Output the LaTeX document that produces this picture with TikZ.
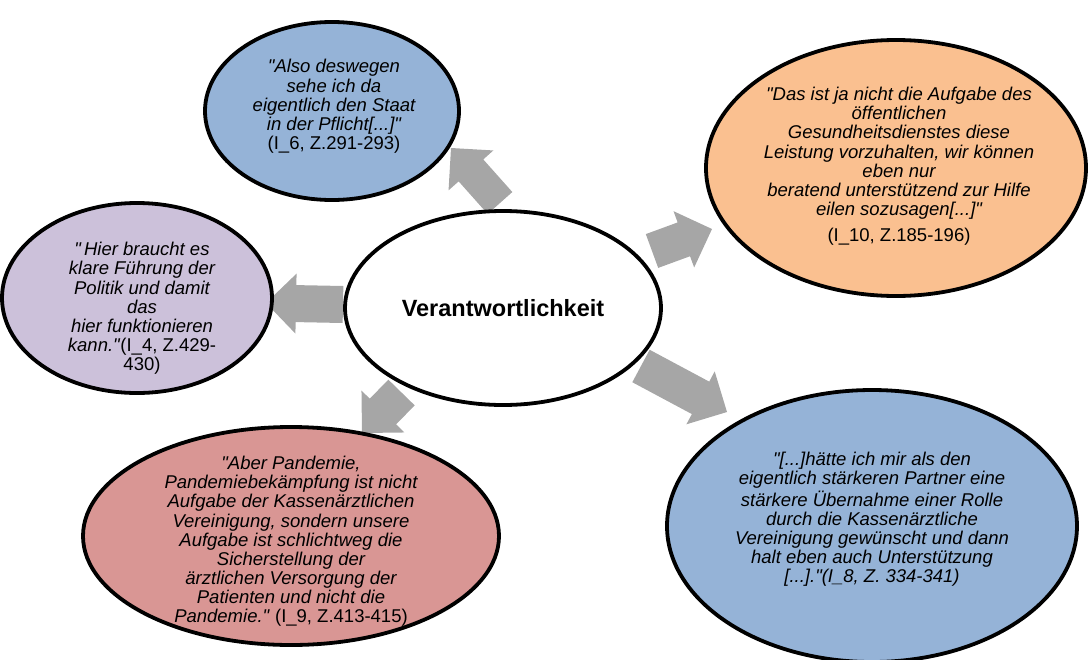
\documentclass[tikz,border=0pt]{standalone}
\usepackage{fontspec}
\setmainfont{Liberation Sans}[Ligatures=TeXOff]
\usetikzlibrary{calc,backgrounds,shapes.geometric}
\definecolor{qblue}{HTML}{95B3D7}
\definecolor{qorange}{HTML}{FAC090}
\definecolor{qpurple}{HTML}{CCC1DA}
\definecolor{qred}{HTML}{D99694}
\definecolor{arrgray}{HTML}{A6A6A6}
\newcommand\qtext[3][0pt]{\smash{\makebox[0pt]{\hspace{#1}\raisebox{#2}{\fontsize{18.5}{19}\selectfont\itshape\begin{tabular}{@{}c@{}}#3\end{tabular}}}}}
\newcommand\blockarrow[3]{%
  \path coordinate (ba-n) at ($(#2)!30pt!(#1)$);
  \fill[arrgray] ($(#1)!#3!90:(#2)$) -- ($(ba-n)!#3!90:(#2)$) -- ($(ba-n)!30pt!90:(#2)$) -- (#2)
    -- ($(ba-n)!30pt!-90:(#2)$) -- ($(ba-n)!#3!-90:(#2)$) -- ($(#1)!#3!-90:(#2)$) -- cycle;}
\tikzset{bubble/.style={ellipse, draw=black, line width=3.8pt, inner sep=0pt, outer sep=0pt}}
\begin{document}
\begin{tikzpicture}[x=1pt, y=-1pt]
\useasboundingbox (0,0) rectangle (1090,659);
\node[bubble, fill=white, minimum width=316pt, minimum height=194pt] (c) at (503,308)
  {\fontsize{23.5}{28}\selectfont\bfseries Verantwortlichkeit};
\node[bubble, fill=qblue, minimum width=254pt, minimum height=178pt] (top) at (332,111)
  {\qtext[4pt]{-0.6pt}{"Also deswegen\\ sehe ich da\\ eigentlich den Staat\\ in der Pflicht[...]"\\ \textup{(I\_6, Z.291-293)}}};
\node[bubble, fill=qorange, minimum width=380pt, minimum height=256pt] (or) at (896,168)
  {\qtext[6pt]{-3.6pt}{"Das ist ja nicht die Aufgabe des\\ öffentlichen\\ Gesundheitsdienstes diese\\ Leistung vorzuhalten, wir können\\ eben nur\\ beratend unterstützend zur Hilfe\\ eilen sozusagen[...]"\\[7pt] \textup{(I\_10, Z.185-196)}}};
\node[bubble, fill=qpurple, minimum width=270pt, minimum height=190pt] (pu) at (137,298)
  {\qtext[10pt]{-15.6pt}{"\,Hier braucht es\\ klare Führung der\\ Politik und damit\\ das\\ hier funktionieren\\ kann."\textup{(I\_4, Z.429-}\\ \textup{430)}}};
\node[bubble, fill=qred, minimum width=416pt, minimum height=218pt] (re) at (291,536)
  {\qtext{-10.6pt}{"Aber Pandemie,\\ Pandemiebekämpfung ist nicht\\ Aufgabe der Kassenärztlichen\\ Vereinigung, sondern unsere\\ Aufgabe ist schlichtweg die\\ Sicherstellung der\\ ärztlichen Versorgung der\\ Patienten und nicht die\\ Pandemie." \textup{(I\_9, Z.413-415)}}};
\node[bubble, fill=qblue, minimum width=410pt, minimum height=272pt] (lr) at (872,526)
  {\qtext{1.4pt}{"[...]hätte ich mir als den\\ eigentlich stärkeren Partner eine\\ stärkere Übernahme einer Rolle\\ durch die Kassenärztliche\\ Vereinigung gewünscht und dann\\ halt eben auch Unterstützung\\ {[}...]."(I\_8, Z. 334-341)}};
\begin{scope}[on background layer]
  \coordinate (t1) at (500,203); \coordinate (h1) at (451,148);
  \coordinate (t2) at (652,251); \coordinate (h2) at (712,229);
  \coordinate (t3) at (343,304.5); \coordinate (h3) at (266,303);
  \coordinate (t4) at (401.5,392.5); \coordinate (h4) at (362,433);
  \coordinate (t5) at (641,366); \coordinate (h5) at (727,412);
  \blockarrow{t1}{h1}{16.5pt}
  \blockarrow{t2}{h2}{18pt}
  \blockarrow{t3}{h3}{18.5pt}
  \blockarrow{t4}{h4}{18.4pt}
  \blockarrow{t5}{h5}{18.4pt}
\end{scope}
\end{tikzpicture}
\end{document}
